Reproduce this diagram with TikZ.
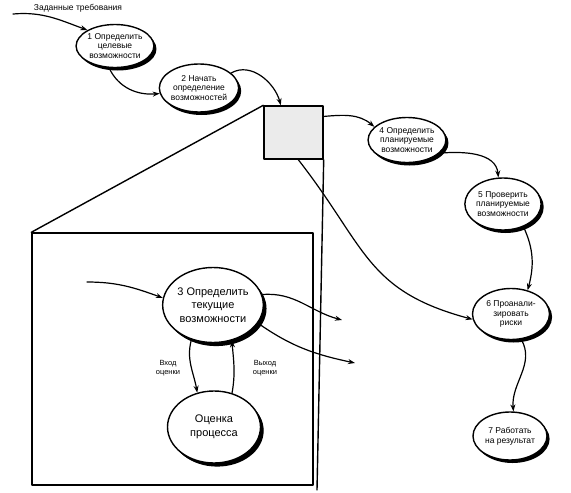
\documentclass[tikz,border=0pt]{standalone}
\usepackage{fontspec}
\setmainfont{Liberation Sans}
\usetikzlibrary{shapes.geometric,shadows,arrows.meta}
\begin{document}
\begin{tikzpicture}[
		x=1pt,y=-1pt,
		>={Stealth[length=7pt,width=5pt]},
		line width=1.2pt,
		line cap=round,
		line join=round,
		stage/.style={ellipse,draw,line width=1.4pt,fill=white,inner sep=0pt,align=center,
			font=\fontsize{8.5}{9.6}\selectfont,
			drop shadow={fill=black,opacity=1,shadow xshift=2.6pt,shadow yshift=-3pt}},
		bigstage/.style={stage,font=\fontsize{11}{13.5}\selectfont,
			drop shadow={fill=black,opacity=1,shadow xshift=3.2pt,shadow yshift=-3.6pt}},
		note/.style={align=center,font=\fontsize{7.5}{9.5}\selectfont}
		]
		\useasboundingbox (0,0) rectangle (571,493);
		\node[font=\fontsize{8.5}{10}\selectfont] (req) at (78,8) {Заданные требования};
		\node[stage,minimum width=74pt,minimum height=43pt] (n1) at (115,46) {1 Определить\\целевые\\возможности};
		\node[stage,minimum width=73pt,minimum height=48pt] (n2) at (199,88) {2 Начать\\определение\\возможностей};
		\node[draw,line width=1.4pt,fill=black!8,minimum width=59pt,minimum height=53pt] (sq) at (293.5,132.5) {};
		\node[draw,line width=1.4pt,minimum width=281pt,minimum height=252pt] (frame) at (172.5,359) {};
		\node[stage,minimum width=67pt,minimum height=45pt] (n4) at (407,140) {4 Определить\\планируемые\\возможности};
		\node[stage,minimum width=66pt,minimum height=52pt] (n5) at (503,204) {5 Проверить\\планируемые\\возможности};
		\node[stage,minimum width=77pt,minimum height=51pt] (n6) at (511,314) {6 Проанали-\\зировать\\риски};
		\node[stage,minimum width=74pt,minimum height=48pt] (n7) at (510,436) {7 Работать\\на результат};
		\node[bigstage,minimum width=95pt,minimum height=75pt] (n3) at (213,305) {3 Определить\\текущие\\возможности};
		\node[bigstage,minimum width=93pt,minimum height=72pt] (proc) at (214,427) {Оценка\\процесса};
		\node[note] (inlab) at (168,368) {Вход\\оценки};
		\node[note] (outlab) at (265,368) {Выход\\оценки};
		\coordinate (start) at (13,14);
		\coordinate (start3) at (87,282);
		\coordinate (end3a) at (342,320);
		\coordinate (end3b) at (355,363);
		\coordinate (corner) at (317,490);
		\draw[line width=1.4pt] (sq.north west) -- (frame.north west);
		\draw[line width=1.4pt] (sq.south east) -- (corner);
		\begin{scope}[->]
		\draw (start) to[out=5,in=160] (n1.150);
		\draw (n1.255) to[out=-65,in=185] (n2.188);
		\draw (n2.25) to[out=30,in=105] (sq.115);
		\draw (sq.28) to[out=5,in=140] (n4.158);
		\draw (n4.-22) to[out=5,in=95] (n5.100);
		\draw (n5.-48) to[out=-65,in=75] (n6.55);
		\draw (n6.-68) to[out=-60,in=95] (n7.82);
		\draw (sq.-80) to[out=-52,in=165,looseness=1.2] (n6.188);
		\draw (start3) to[out=0,in=160] (n3.172);
		\draw (n3.12) to[out=5,in=165] (end3a);
		\draw (n3.-22) to[out=-35,in=168] (end3b);
		\draw (n3.238) to[out=255,in=100] (proc.116);
		\draw (proc.62) to[out=80,in=-85] (n3.-62);
		\end{scope}
		\end{tikzpicture}
\end{document}
